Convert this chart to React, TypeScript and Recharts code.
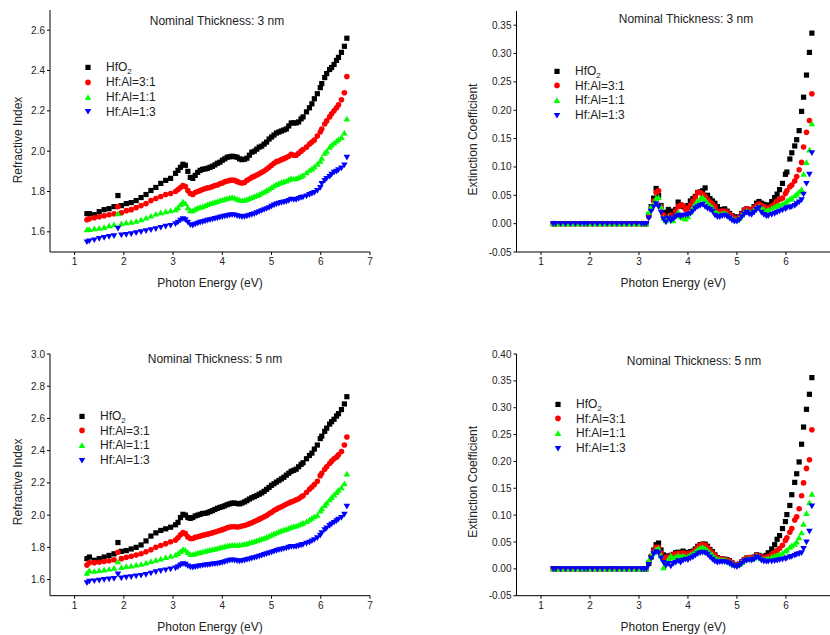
import React from 'react';
import { ScatterChart, Scatter, XAxis, YAxis, Legend } from 'recharts';

// shared photon energies (eV)
const ENERGY = [
  1.25, 1.3, 1.4, 1.5, 1.6, 1.7, 1.8, 1.88, 1.95, 2.05,
  2.15, 2.25, 2.35, 2.45, 2.55, 2.65, 2.75, 2.85, 2.95, 3.05,
  3.1, 3.15, 3.2, 3.25, 3.3, 3.35, 3.4, 3.45, 3.5, 3.55,
  3.6, 3.65, 3.7, 3.75, 3.8, 3.85, 3.9, 3.95, 4.0, 4.05,
  4.1, 4.15, 4.2, 4.25, 4.3, 4.35, 4.4, 4.45, 4.5, 4.55,
  4.6, 4.65, 4.7, 4.75, 4.8, 4.85, 4.9, 4.95, 5.0, 5.05,
  5.1, 5.15, 5.2, 5.25, 5.3, 5.35, 5.4, 5.45, 5.5, 5.55,
  5.6,
  5.64, 5.71, 5.77, 5.82, 5.87, 5.93, 5.99, 6.02, 6.08, 6.12,
  6.18, 6.22, 6.27, 6.32, 6.36, 6.42, 6.48, 6.53,
];

// refractive index, 3 nm
const N3_HFO2 = [
  1.69, 1.69, 1.685, 1.7, 1.71, 1.715, 1.725, 1.78, 1.73, 1.74,
  1.745, 1.755, 1.77, 1.785, 1.805, 1.82, 1.84, 1.855, 1.865, 1.89,
  1.905, 1.92, 1.935, 1.93, 1.9, 1.87, 1.865, 1.88, 1.895, 1.905,
  1.91, 1.912, 1.915, 1.92, 1.925, 1.932, 1.94, 1.945, 1.955, 1.962,
  1.97, 1.972, 1.975, 1.973, 1.97, 1.962, 1.958, 1.96, 1.965, 1.98,
  1.995, 2.0, 2.01, 2.02, 2.025, 2.035, 2.045, 2.06, 2.07, 2.08,
  2.09, 2.095, 2.1, 2.105, 2.11, 2.125, 2.14, 2.14, 2.14, 2.145,
  2.16,
  2.17, 2.195, 2.215, 2.235, 2.26, 2.285, 2.315, 2.335, 2.365, 2.385,
  2.405, 2.415, 2.43, 2.45, 2.465, 2.49, 2.52, 2.56,
];
const N3_31 = [
  1.66, 1.665, 1.67, 1.675, 1.68, 1.685, 1.69, 1.725, 1.695, 1.705,
  1.71, 1.72, 1.73, 1.74, 1.755, 1.765, 1.775, 1.785, 1.79, 1.8,
  1.81, 1.82, 1.83, 1.825, 1.805, 1.79, 1.785, 1.795, 1.8, 1.805,
  1.81, 1.815, 1.818, 1.82, 1.825, 1.83, 1.832, 1.838, 1.842, 1.848,
  1.852, 1.855, 1.857, 1.855, 1.85, 1.845, 1.842, 1.845, 1.855, 1.862,
  1.87, 1.875, 1.882, 1.888, 1.895, 1.902, 1.91, 1.92, 1.93, 1.94,
  1.948, 1.952, 1.958, 1.963, 1.968, 1.975, 1.985, 1.98, 1.98, 1.99,
  2.0,
  2.008, 2.02, 2.035, 2.045, 2.055, 2.075, 2.095, 2.11, 2.135, 2.15,
  2.17, 2.185, 2.2, 2.215, 2.23, 2.255, 2.29, 2.37,
];
const N3_11 = [
  1.61, 1.612, 1.615, 1.618, 1.622, 1.63, 1.635, 1.69, 1.64, 1.645,
  1.648, 1.652, 1.66, 1.668, 1.678, 1.688, 1.695, 1.7, 1.705, 1.71,
  1.72, 1.735, 1.748, 1.74, 1.72, 1.705, 1.705, 1.712, 1.718, 1.722,
  1.725, 1.73, 1.735, 1.74, 1.743, 1.747, 1.75, 1.755, 1.758, 1.762,
  1.766, 1.768, 1.77, 1.768, 1.762, 1.758, 1.755, 1.757, 1.76, 1.765,
  1.77, 1.775, 1.78, 1.785, 1.792, 1.798, 1.805, 1.812, 1.82, 1.828,
  1.835, 1.84, 1.845, 1.848, 1.852, 1.858, 1.865, 1.862, 1.865, 1.87,
  1.875,
  1.88, 1.893, 1.905, 1.912, 1.922, 1.935, 1.95, 1.965, 1.99, 2.0,
  2.02, 2.03, 2.04, 2.05, 2.058, 2.068, 2.09, 2.16,
];
const N3_13 = [
  1.55, 1.555, 1.56, 1.567, 1.572, 1.577, 1.58, 1.618, 1.584, 1.587,
  1.59, 1.595, 1.6, 1.605, 1.61, 1.615, 1.622, 1.628, 1.632, 1.64,
  1.648, 1.658, 1.665, 1.66, 1.648, 1.635, 1.633, 1.638, 1.643, 1.647,
  1.65, 1.654, 1.657, 1.66, 1.663, 1.666, 1.668, 1.672, 1.675, 1.678,
  1.68, 1.683, 1.685, 1.684, 1.68, 1.677, 1.675, 1.676, 1.678, 1.682,
  1.686, 1.69, 1.695, 1.7, 1.705, 1.71, 1.715, 1.72, 1.727, 1.733,
  1.738, 1.742, 1.745, 1.748, 1.75, 1.755, 1.762, 1.76, 1.76, 1.765,
  1.77,
  1.773, 1.778, 1.785, 1.79, 1.795, 1.805, 1.82, 1.84, 1.855, 1.865,
  1.875, 1.885, 1.895, 1.9, 1.908, 1.916, 1.932, 1.97,
];

// refractive index, 5 nm
const N5_HFO2 = [
  1.73, 1.74, 1.72, 1.73, 1.74, 1.75, 1.76, 1.83, 1.775, 1.78,
  1.79, 1.8, 1.815, 1.84, 1.87, 1.89, 1.905, 1.915, 1.925, 1.94,
  1.955, 1.985, 2.005, 2.0, 1.985, 1.98, 1.985, 1.995, 2.0, 2.005,
  2.01, 2.012, 2.015, 2.022, 2.028, 2.035, 2.042, 2.048, 2.052, 2.058,
  2.065, 2.07, 2.075, 2.075, 2.072, 2.07, 2.075, 2.082, 2.09, 2.1,
  2.108, 2.115, 2.122, 2.13, 2.138, 2.148, 2.16, 2.172, 2.185, 2.195,
  2.205, 2.215, 2.225, 2.235, 2.248, 2.26, 2.272, 2.278, 2.285, 2.3,
  2.315,
  2.325, 2.35, 2.37, 2.385, 2.41, 2.435, 2.475, 2.49, 2.52, 2.54,
  2.565, 2.58, 2.595, 2.615, 2.63, 2.655, 2.69, 2.735,
];
const N5_31 = [
  1.69, 1.705, 1.705, 1.708, 1.712, 1.717, 1.723, 1.77, 1.73, 1.738,
  1.745, 1.752, 1.76, 1.772, 1.785, 1.8, 1.812, 1.823, 1.835, 1.845,
  1.86, 1.878, 1.892, 1.885, 1.865, 1.855, 1.855, 1.862, 1.866, 1.87,
  1.875, 1.878, 1.882, 1.886, 1.89, 1.895, 1.9, 1.905, 1.91, 1.915,
  1.922, 1.926, 1.928, 1.928, 1.926, 1.928, 1.932, 1.936, 1.94, 1.947,
  1.953, 1.96, 1.967, 1.975, 1.982, 1.99, 1.998, 2.008, 2.018, 2.028,
  2.037, 2.045, 2.052, 2.06, 2.068, 2.075, 2.082, 2.088, 2.095, 2.102,
  2.112,
  2.12, 2.14, 2.16, 2.175, 2.19, 2.21, 2.245, 2.26, 2.285, 2.3,
  2.32, 2.335, 2.35, 2.36, 2.375, 2.395, 2.435, 2.485,
];
const N5_11 = [
  1.64, 1.655, 1.652, 1.656, 1.66, 1.665, 1.67, 1.71, 1.675, 1.681,
  1.685, 1.69, 1.695, 1.703, 1.712, 1.72, 1.728, 1.737, 1.745, 1.752,
  1.762, 1.775, 1.787, 1.782, 1.768, 1.758, 1.755, 1.76, 1.765, 1.768,
  1.772, 1.776, 1.78, 1.784, 1.787, 1.79, 1.794, 1.798, 1.801, 1.805,
  1.808, 1.812, 1.814, 1.814, 1.812, 1.814, 1.817, 1.82, 1.823, 1.828,
  1.832, 1.836, 1.842, 1.847, 1.852, 1.857, 1.863, 1.87, 1.877, 1.884,
  1.89, 1.897, 1.903, 1.908, 1.913, 1.918, 1.925, 1.93, 1.932, 1.938,
  1.945,
  1.95, 1.96, 1.97, 1.98, 1.99, 2.0, 2.025, 2.04, 2.06, 2.075,
  2.095, 2.11, 2.125, 2.14, 2.155, 2.17, 2.195, 2.255,
];
const N5_13 = [
  1.58, 1.59, 1.592, 1.596, 1.6, 1.603, 1.606, 1.635, 1.61, 1.614,
  1.618, 1.622, 1.626, 1.632, 1.64, 1.648, 1.655, 1.66, 1.666, 1.672,
  1.68, 1.69, 1.698, 1.695, 1.685, 1.678, 1.676, 1.68, 1.683, 1.686,
  1.688, 1.69, 1.692, 1.694, 1.696, 1.698, 1.7, 1.703, 1.706, 1.71,
  1.715, 1.72, 1.722, 1.72, 1.716, 1.715, 1.717, 1.72, 1.724, 1.728,
  1.732, 1.736, 1.74, 1.745, 1.75, 1.755, 1.76, 1.765, 1.77, 1.775,
  1.78, 1.785, 1.788, 1.792, 1.795, 1.8, 1.805, 1.805, 1.805, 1.81,
  1.815,
  1.818, 1.825, 1.832, 1.84, 1.848, 1.86, 1.875, 1.89, 1.91, 1.92,
  1.935, 1.945, 1.955, 1.965, 1.975, 1.985, 2.005, 2.055,
];

// extinction coefficient, 3 nm
const K3_HFO2 = [
  0, 0, 0, 0, 0, 0, 0, 0, 0, 0,
  0, 0, 0, 0, 0, 0, 0, 0, 0, 0,
  0, 0, 0.015, 0.03, 0.045, 0.062, 0.05, 0.032, 0.02, 0.018,
  0.025, 0.022, 0.018, 0.025, 0.038, 0.033, 0.03, 0.028, 0.032, 0.04,
  0.044, 0.048, 0.055, 0.056, 0.058, 0.063, 0.05, 0.044, 0.04, 0.036,
  0.03, 0.024, 0.025, 0.026, 0.022, 0.018, 0.014, 0.012, 0.01, 0.012,
  0.018, 0.024, 0.026, 0.024, 0.025, 0.03, 0.036, 0.039, 0.036, 0.034,
  0.03,
  0.033, 0.039, 0.046, 0.052, 0.06, 0.071, 0.087, 0.091, 0.114, 0.125,
  0.137, 0.148, 0.164, 0.198, 0.223, 0.262, 0.302, 0.336,
];
const K3_31 = [
  0, 0, 0, 0, 0, 0, 0, 0, 0, 0,
  0, 0, 0, 0, 0, 0, 0, 0, 0, 0,
  0, 0, 0.012, 0.026, 0.04, 0.055, 0.058, 0.03, 0.015, 0.01,
  0.012, 0.015, 0.012, 0.022, 0.03, 0.033, 0.032, 0.025, 0.027, 0.033,
  0.04, 0.047, 0.055, 0.055, 0.052, 0.048, 0.042, 0.038, 0.035, 0.03,
  0.022, 0.02, 0.022, 0.022, 0.02, 0.016, 0.013, 0.01, 0.009, 0.011,
  0.017, 0.024, 0.026, 0.024, 0.024, 0.028, 0.032, 0.035, 0.032, 0.03,
  0.027,
  0.027, 0.031, 0.035, 0.04, 0.043, 0.045, 0.053, 0.058, 0.065, 0.068,
  0.075, 0.083, 0.095, 0.108, 0.135, 0.161, 0.182, 0.229,
];
const K3_11 = [
  0, 0, 0, 0, 0, 0, 0, 0, 0, 0,
  0, 0, 0, 0, 0, 0, 0, 0, 0, 0,
  0, 0, 0.02, 0.03, 0.036, 0.045, 0.046, 0.03, 0.01, 0.005,
  0.012, 0.008, 0.005, 0.015, 0.02, 0.012, 0.01, 0.008, 0.012, 0.02,
  0.028, 0.035, 0.04, 0.044, 0.046, 0.042, 0.036, 0.032, 0.028, 0.022,
  0.018, 0.016, 0.018, 0.018, 0.016, 0.012, 0.009, 0.007, 0.006, 0.009,
  0.015, 0.02, 0.022, 0.02, 0.02, 0.024, 0.028, 0.03, 0.027, 0.025,
  0.022,
  0.024, 0.027, 0.03, 0.031, 0.033, 0.035, 0.037, 0.04, 0.043, 0.045,
  0.049, 0.052, 0.056, 0.06, 0.087, 0.108, 0.13, 0.176,
];
const K3_13 = [
  0, 0, 0, 0, 0, 0, 0, 0, 0, 0,
  0, 0, 0, 0, 0, 0, 0, 0, 0, 0,
  0, 0, 0.01, 0.022, 0.03, 0.035, 0.03, 0.02, 0.008, 0.003,
  0.01, 0.005, 0.008, 0.012, 0.015, 0.013, 0.015, 0.015, 0.016, 0.018,
  0.022, 0.027, 0.03, 0.032, 0.034, 0.03, 0.027, 0.025, 0.022, 0.015,
  0.012, 0.012, 0.014, 0.015, 0.013, 0.01, 0.006, 0.004, 0.004, 0.007,
  0.012, 0.017, 0.02, 0.017, 0.016, 0.02, 0.025, 0.028, 0.02, 0.016,
  0.014,
  0.014, 0.016, 0.018, 0.02, 0.022, 0.024, 0.026, 0.028, 0.029, 0.03,
  0.032, 0.035, 0.038, 0.042, 0.052, 0.071, 0.087, 0.125,
];

// extinction coefficient, 5 nm
const K5_HFO2 = [
  0, 0, 0, 0, 0, 0, 0, 0, 0, 0,
  0, 0, 0, 0, 0, 0, 0, 0, 0, 0,
  0, 0, 0.01, 0.022, 0.035, 0.045, 0.048, 0.035, 0.026, 0.024,
  0.022, 0.025, 0.027, 0.03, 0.031, 0.03, 0.033, 0.03, 0.03, 0.032,
  0.033, 0.037, 0.042, 0.045, 0.046, 0.046, 0.042, 0.036, 0.032, 0.026,
  0.021, 0.019, 0.018, 0.018, 0.017, 0.015, 0.011, 0.008, 0.007, 0.009,
  0.013, 0.017, 0.02, 0.02, 0.02, 0.022, 0.026, 0.025, 0.023, 0.023,
  0.025,
  0.03, 0.037, 0.045, 0.055, 0.062, 0.075, 0.088, 0.101, 0.118, 0.138,
  0.161, 0.177, 0.199, 0.232, 0.264, 0.297, 0.325, 0.356,
];
const K5_31 = [
  0, 0, 0, 0, 0, 0, 0, 0, 0, 0,
  0, 0, 0, 0, 0, 0, 0, 0, 0, 0,
  0, 0, 0.012, 0.024, 0.033, 0.04, 0.04, 0.03, 0.02, 0.022,
  0.018, 0.024, 0.026, 0.028, 0.029, 0.028, 0.03, 0.028, 0.028, 0.03,
  0.031, 0.035, 0.04, 0.044, 0.045, 0.044, 0.04, 0.034, 0.03, 0.025,
  0.02, 0.019, 0.018, 0.018, 0.016, 0.014, 0.011, 0.008, 0.007, 0.009,
  0.013, 0.018, 0.02, 0.021, 0.02, 0.021, 0.025, 0.024, 0.022, 0.021,
  0.022,
  0.023, 0.027, 0.031, 0.034, 0.038, 0.044, 0.053, 0.058, 0.068, 0.075,
  0.091, 0.097, 0.112, 0.136, 0.16, 0.187, 0.203, 0.259,
];
const K5_11 = [
  0, 0, 0, 0, 0, 0, 0, 0, 0, 0,
  0, 0, 0, 0, 0, 0, 0, 0, 0, 0,
  0, 0, 0.015, 0.025, 0.03, 0.036, 0.038, 0.025, 0.002, 0.01,
  0.018, 0.024, 0.02, 0.022, 0.025, 0.022, 0.024, 0.022, 0.023, 0.026,
  0.028, 0.032, 0.036, 0.039, 0.04, 0.038, 0.034, 0.03, 0.026, 0.021,
  0.018, 0.017, 0.016, 0.016, 0.014, 0.012, 0.009, 0.007, 0.006, 0.008,
  0.012, 0.016, 0.018, 0.019, 0.018, 0.02, 0.024, 0.022, 0.019, 0.018,
  0.018,
  0.019, 0.022, 0.024, 0.025, 0.027, 0.029, 0.033, 0.035, 0.04, 0.043,
  0.046, 0.05, 0.058, 0.067, 0.083, 0.103, 0.123, 0.139,
];
const K5_13 = [
  0, 0, 0, 0, 0, 0, 0, 0, 0, 0,
  0, 0, 0, 0, 0, 0, 0, 0, 0, 0,
  0, 0, 0.008, 0.02, 0.028, 0.032, 0.03, 0.02, 0.012, 0.006,
  0.01, 0.005, 0.01, 0.012, 0.015, 0.012, 0.016, 0.018, 0.017, 0.02,
  0.022, 0.025, 0.028, 0.03, 0.031, 0.03, 0.027, 0.022, 0.018, 0.014,
  0.012, 0.013, 0.013, 0.013, 0.012, 0.01, 0.007, 0.005, 0.004, 0.006,
  0.01, 0.014, 0.016, 0.017, 0.016, 0.018, 0.022, 0.02, 0.016, 0.014,
  0.014,
  0.014, 0.014, 0.015, 0.016, 0.017, 0.018, 0.019, 0.02, 0.022, 0.023,
  0.025, 0.027, 0.028, 0.03, 0.038, 0.05, 0.07, 0.117,
];

const SERIES_NAMES = ['HfO2', 'Hf:Al=3:1', 'Hf:Al=1:1', 'Hf:Al=1:3'];
const COLORS = ['#000000', '#ff0000', '#00ff00', '#0000ff'];

const X_TICKS_LEFT = [1, 2, 3, 4, 5, 6, 7];
const X_TICKS_RIGHT = [1, 2, 3, 4, 5, 6];
const X_MINOR = [0.5, 1.5, 2.5, 3.5, 4.5, 5.5, 6.5];
const N3_Y_TICKS = [1.6, 1.8, 2.0, 2.2, 2.4, 2.6];
const N3_Y_MINOR = [1.5, 1.7, 1.9, 2.1, 2.3, 2.5, 2.7];
const N5_Y_TICKS = [1.6, 1.8, 2.0, 2.2, 2.4, 2.6, 2.8, 3.0];
const N5_Y_MINOR = [1.5, 1.7, 1.9, 2.1, 2.3, 2.5, 2.7, 2.9];
const K3_Y_TICKS = [-0.05, 0, 0.05, 0.1, 0.15, 0.2, 0.25, 0.3, 0.35];
const K5_Y_TICKS = [-0.05, 0, 0.05, 0.1, 0.15, 0.2, 0.25, 0.3, 0.35, 0.4];
const K_Y_MINOR = [-0.025, 0.025, 0.075, 0.125, 0.175, 0.225, 0.275, 0.325, 0.375];

const TEXT = '#222';

function Marker({ kind, cx, cy, fill }: { kind: number; cx: number; cy: number; fill: string }) {
  if (cx == null || cy == null) return null;
  if (kind === 0) return <rect x={cx - 2.6} y={cy - 2.6} width={5.2} height={5.2} fill={fill} />;
  if (kind === 1) return <circle cx={cx} cy={cy} r={2.8} fill={fill} />;
  if (kind === 2)
    return <polygon points={`${cx},${cy - 3.2} ${cx + 3.3},${cy + 2.5} ${cx - 3.3},${cy + 2.5}`} fill={fill} />;
  return <polygon points={`${cx},${cy + 3.2} ${cx + 3.3},${cy - 2.5} ${cx - 3.3},${cy - 2.5}`} fill={fill} />;
}

function XTitle({ viewBox }: any) {
  const { x, y, width } = viewBox;
  return (
    <text x={x + width / 2} y={y + 35} textAnchor="middle" fontSize={12} fill={TEXT}>
      Photon Energy (eV)
    </text>
  );
}

function YTitle({ viewBox, text, shiftX, shiftY }: any) {
  const cx = viewBox.x + viewBox.width + shiftX;
  const cy = viewBox.y + viewBox.height / 2 + shiftY;
  return (
    <text x={cx} y={cy} dy="0.35em" textAnchor="middle" fontSize={12} fill={TEXT} transform={`rotate(-90 ${cx} ${cy})`}>
      {text}
    </text>
  );
}

function LegendBox() {
  return (
    <div style={{ fontSize: 12, color: TEXT }}>
      {SERIES_NAMES.map((name, i) => (
        <div key={name} style={{ display: 'flex', alignItems: 'center', height: 14.8 }}>
          <svg width={12} height={14.8} style={{ display: 'block' }}>
            <Marker kind={i} cx={6} cy={7.4} fill={COLORS[i]} />
          </svg>
          <span style={{ marginLeft: 12, whiteSpace: 'nowrap' }}>
            {i === 0 ? (
              <>
                HfO<sub style={{ fontSize: 8, verticalAlign: '-3px', lineHeight: 0 }}>2</sub>
              </>
            ) : (
              name
            )}
          </span>
        </div>
      ))}
    </div>
  );
}

// margins leave room for two 1px-wide axes on the left and bottom (major + minor ticks)
const PANELS = [
  {
    id: 'n3', left: 0, top: 0, width: 415, height: 315,
    margin: { top: 10, right: 45, bottom: 61, left: 48 },
    series: [N3_HFO2, N3_31, N3_11, N3_13],
    xDomain: [0.5, 7], xTicks: X_TICKS_LEFT,
    yDomain: [1.5, 2.7], yTicks: N3_Y_TICKS, yMinor: N3_Y_MINOR, digits: 1,
    yLabel: 'Refractive Index', yShift: [-32, 9],
    title: 'Nominal Thickness: 3 nm', titlePos: [217, 21], legendPos: [82, 60],
  },
  {
    id: 'k3', left: 415, top: 0, width: 415, height: 315,
    margin: { top: 11, right: 0, bottom: 61, left: 99.5 },
    series: [K3_HFO2, K3_31, K3_11, K3_13],
    xDomain: [0.5, 6.9], xTicks: X_TICKS_RIGHT,
    yDomain: [-0.05, 0.375], yTicks: K3_Y_TICKS, yMinor: K_Y_MINOR, digits: 2,
    yLabel: 'Extinction Coefficient', yShift: [-43.5, 8],
    title: 'Nominal Thickness: 3 nm', titlePos: [271, 19], legendPos: [136, 63.5],
  },
  {
    id: 'n5', left: 0, top: 315, width: 415, height: 320,
    margin: { top: 39, right: 45, bottom: 37.3, left: 48 },
    series: [N5_HFO2, N5_31, N5_11, N5_13],
    xDomain: [0.5, 7], xTicks: X_TICKS_LEFT,
    yDomain: [1.5, 3.0], yTicks: N5_Y_TICKS, yMinor: N5_Y_MINOR, digits: 1,
    yLabel: 'Refractive Index', yShift: [-32, 7],
    title: 'Nominal Thickness: 5 nm', titlePos: [215, 44], legendPos: [76, 93.5],
  },
  {
    id: 'k5', left: 415, top: 315, width: 415, height: 320,
    margin: { top: 39, right: 0, bottom: 37.3, left: 99.5 },
    series: [K5_HFO2, K5_31, K5_11, K5_13],
    xDomain: [0.5, 6.9], xTicks: X_TICKS_RIGHT,
    yDomain: [-0.05, 0.4], yTicks: K5_Y_TICKS, yMinor: K_Y_MINOR, digits: 2,
    yLabel: 'Extinction Coefficient', yShift: [-43.5, 7],
    title: 'Nominal Thickness: 5 nm', titlePos: [279, 46], legendPos: [137, 81.5],
  },
];

const tickStyle = { fontSize: 10, fill: TEXT };
const lineStyle = { stroke: '#000', strokeWidth: 1 };

function Panel({ p }: { p: (typeof PANELS)[number] }) {
  return (
    <div style={{ position: 'absolute', left: p.left, top: p.top, width: p.width, height: p.height }}>
      <ScatterChart width={p.width} height={p.height} margin={p.margin}>
        <XAxis
          type="number" dataKey="x" domain={p.xDomain} ticks={p.xTicks} allowDataOverflow interval={0}
          height={1} tickSize={3} tickMargin={3} tick={tickStyle} axisLine={lineStyle} tickLine={lineStyle}
          label={<XTitle />}
        />
        <XAxis
          xAxisId="minor" type="number" domain={p.xDomain} ticks={X_MINOR} allowDataOverflow interval={0}
          height={1} tickSize={1} tick={false} axisLine={false} tickLine={lineStyle}
        />
        <YAxis
          type="number" dataKey="y" domain={p.yDomain} ticks={p.yTicks} allowDataOverflow interval={0}
          width={1} tickSize={3} tickMargin={2} tick={tickStyle} axisLine={lineStyle} tickLine={lineStyle}
          tickFormatter={(v: number) => v.toFixed(p.digits)}
          label={<YTitle text={p.yLabel} shiftX={p.yShift[0]} shiftY={p.yShift[1]} />}
        />
        <YAxis
          yAxisId="minor" type="number" domain={p.yDomain} ticks={p.yMinor} allowDataOverflow interval={0}
          width={1} tickSize={1} tick={false} axisLine={false} tickLine={lineStyle}
        />
        {p.series.map((values, i) => (
          <Scatter
            key={SERIES_NAMES[i]}
            name={SERIES_NAMES[i]}
            data={ENERGY.map((x, j) => ({ x, y: values[j] }))}
            fill={COLORS[i]}
            isAnimationActive={false}
            shape={(s: any) => <Marker kind={i} cx={s.cx} cy={s.cy} fill={COLORS[i]} />}
          />
        ))}
        <Legend
          layout="vertical" align="center" verticalAlign="middle"
          wrapperStyle={{ left: p.legendPos[0], top: p.legendPos[1], width: 120 }}
          content={() => <LegendBox />}
        />
      </ScatterChart>
      <div
        style={{
          position: 'absolute', left: p.titlePos[0] - 100, top: p.titlePos[1] - 8, width: 200,
          textAlign: 'center', fontSize: 12, lineHeight: '16px', color: TEXT, whiteSpace: 'nowrap',
        }}
      >
        {p.title}
      </div>
    </div>
  );
}

export default function App() {
  return (
    <div
      style={{
        position: 'absolute', left: 0, top: 0, width: 830, height: 635, background: '#fff',
        fontFamily: '"Liberation Sans", Arial, sans-serif',
      }}
    >
      {PANELS.map((p) => (
        <Panel key={p.id} p={p} />
      ))}
    </div>
  );
}
